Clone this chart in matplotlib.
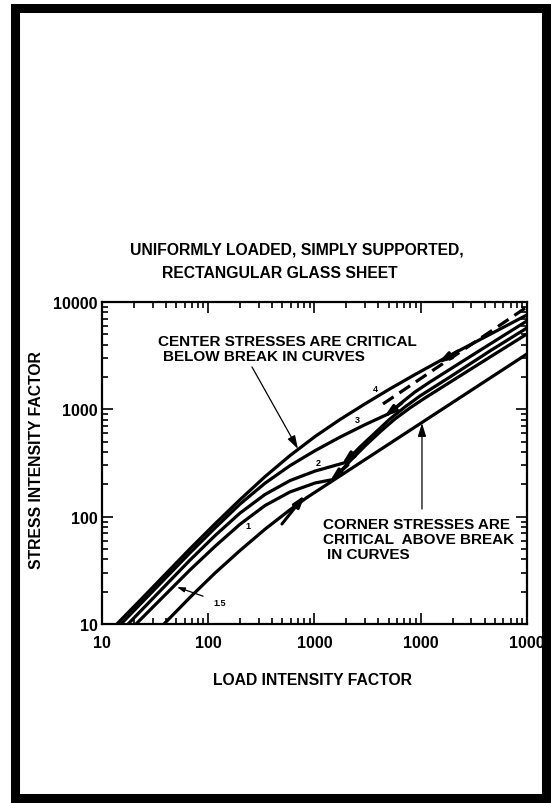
import matplotlib
matplotlib.use("Agg")
import matplotlib.pyplot as plt
from matplotlib.patches import Rectangle
from matplotlib.ticker import LogLocator, NullFormatter

plt.rcParams['font.family'] = ['Liberation Sans', 'DejaVu Sans']
plt.rcParams['font.weight'] = 'bold'

# center-stress curves, one per aspect ratio (load, stress)
c4_load = [13.8, 22.8, 39.2, 67.3, 116, 199, 342, 588, 1011, 1738, 2987, 5135, 8830, 16910]
c4_stress = [10, 16.6, 28.9, 50.2, 85.9, 144, 236, 371, 558, 804, 1125, 1553, 2110, 3007]
c3_load = [15.1, 67.3, 116, 199, 342, 588, 1011, 1738, 2987, 4918]
c3_stress = [10, 46.0, 78.6, 131, 205, 299, 412, 551, 720, 904]
c2_load = [17.6, 67.3, 116, 199, 342, 588, 1011, 1937]
c2_stress = [10, 39.4, 66.7, 108, 161, 217, 266, 319]
c15_load = [20.9, 67.3, 116, 199, 342, 588, 1011, 1493]
c15_stress = [10, 31.9, 53.0, 85.0, 127, 170, 206, 222]
c1_load = [38.3, 67.3, 116, 199, 342, 588, 850]
c1_stress = [10, 17.7, 29.9, 48.4, 76.4, 116, 151]

# corner-stress curves above the break
k1_load = [850, 100000]
k1_stress = [151, 3283]
k15_load = [1493, 2159, 2987, 4135, 5722, 7920, 10965, 23410, 49970, 100000]
k15_stress = [222, 330, 456, 616, 814, 1031, 1277, 2048, 3283, 5042]
k2_load = [1937, 2680, 3710, 5135, 7108, 9840, 18850, 44850, 100000]
k2_stress = [319, 446, 603, 814, 1053, 1333, 2004, 3502, 5736]
k3_load = [4918, 6378, 8830, 12220, 23410, 49970, 100000]
k3_stress = [904, 1123, 1453, 1800, 2706, 4340, 6667]
k4_load = [16910, 100000]
k4_stress = [3007, 7584]
dash_load = [4413, 100000]
dash_stress = [1123, 9000]

# little arrows marking the breaks: (tail load, tail stress, head load, head stress)
breaks = [
    (494, 85.5, 814, 159),
    (2067, 303, 1399, 215),
    (2680, 437, 1815, 310),
    (6660, 1147, 4510, 850),
    (22410, 3502, 14540, 2706),
]

curve_labels = ['1', '2', '3', '4']
label_load = [237, 1079, 2512, 3710]
label_stress = [82, 323, 796, 1560]

x_ticks = [10, 100, 1000, 10000, 100000]
x_ticklabels = ['10', '100', '1000', '1000', '1000']
y_ticks = [10, 100, 1000, 10000]
y_ticklabels = ['10', '100', '1000', '10000']

fig = plt.figure(figsize=(5.51, 8.04), dpi=100)
ax = fig.add_axes([0.1851, 0.2226, 0.7713, 0.4005])

lw = 2.3
for xs, ys in [(c4_load, c4_stress), (c3_load, c3_stress), (c2_load, c2_stress),
               (c15_load, c15_stress), (c1_load, c1_stress),
               (k1_load, k1_stress), (k15_load, k15_stress), (k2_load, k2_stress),
               (k3_load, k3_stress), (k4_load, k4_stress)]:
    ax.plot(xs, ys, color='black', lw=lw, solid_capstyle='round',
            solid_joinstyle='round')
ax.plot(dash_load, dash_stress, color='black', lw=lw, dashes=(4, 2.2))

for x0, y0, x1, y1 in breaks:
    ax.annotate('', xy=(x1, y1), xytext=(x0, y0),
                arrowprops=dict(arrowstyle='-|>,head_length=0.7,head_width=0.22',
                                color='black', lw=2.2, shrinkA=0, shrinkB=0))

for t, x, y in zip(curve_labels, label_load, label_stress):
    ax.text(x, y, t, fontsize=6.5, fontweight='bold', ha='center', va='center')

# "1.5" pointer
ax.annotate('1.5', xy=(50.8, 22.1), xytext=(129, 16.0), fontsize=6.5, fontweight='bold',
            ha='center', va='center',
            arrowprops=dict(arrowstyle='-|>,head_length=0.7,head_width=0.22',
                            color='black', lw=0.9, shrinkA=6, shrinkB=0))

txt = dict(fontsize=11, fontweight='bold', va='center', ha='left', transform=ax.transAxes)
ax.text(0.132, 0.879, 'CENTER STRESSES ARE CRITICAL', **txt)
ax.text(0.1435, 0.832, 'BELOW BREAK IN CURVES', **txt)
ax.annotate('', xy=(699, 428), xytext=(258, 2485),
            arrowprops=dict(arrowstyle='-|>,head_length=0.8,head_width=0.25',
                            color='black', lw=0.9, shrinkA=0, shrinkB=0))

ax.text(0.52, 0.3106, 'CORNER STRESSES ARE', **txt)
ax.text(0.52, 0.264, 'CRITICAL  ABOVE BREAK', **txt)
ax.text(0.529, 0.217, 'IN CURVES', **txt)
ax.annotate('', xy=(10275, 745), xytext=(10275, 118),
            arrowprops=dict(arrowstyle='-|>,head_length=0.8,head_width=0.25',
                            color='black', lw=0.9, shrinkA=0, shrinkB=0))

ax.set_xscale('log')
ax.set_yscale('log')
ax.set_xlim(10, 100000)
ax.set_ylim(10, 10000)
ax.set_xticks(x_ticks, x_ticklabels)
ax.set_yticks(y_ticks, y_ticklabels)
ax.xaxis.set_minor_locator(LogLocator(base=10, subs=range(2, 10)))
ax.yaxis.set_minor_locator(LogLocator(base=10, subs=range(2, 10)))
ax.xaxis.set_minor_formatter(NullFormatter())
ax.yaxis.set_minor_formatter(NullFormatter())
ax.tick_params(which='both', direction='in', top=True, right=True, width=1.2)
ax.tick_params(which='major', length=8)
ax.tick_params(which='minor', length=4.5)
ax.tick_params(axis='x', which='major', pad=8, labelsize=11.5)
ax.tick_params(axis='y', which='major', pad=3, labelsize=11.5)
for lab in ax.get_xticklabels() + ax.get_yticklabels():
    lab.set_fontweight('bold')
for sp in ax.spines.values():
    sp.set_linewidth(1.6)

fig.text(0.236, 0.689, 'UNIFORMLY LOADED, SIMPLY SUPPORTED,', fontsize=11.3,
         fontweight='bold', ha='left', va='center')
fig.text(0.294, 0.6604, 'RECTANGULAR GLASS SHEET', fontsize=11.3,
         fontweight='bold', ha='left', va='center')
fig.text(0.067, 0.428, 'STRESS INTENSITY FACTOR', fontsize=11.3, fontweight='bold',
         rotation=90, ha='center', va='center')
fig.text(0.568, 0.154, 'LOAD INTENSITY FACTOR', fontsize=11.3, fontweight='bold',
         ha='center', va='center')

# heavy page frame
fig.patches.append(Rectangle((15 / 551, 1 - 799 / 804), 531 / 551, 790.5 / 804,
                             transform=fig.transFigure, fill=False,
                             edgecolor='black', lw=6.5, zorder=10))

fig.savefig('out.png', dpi=100)
